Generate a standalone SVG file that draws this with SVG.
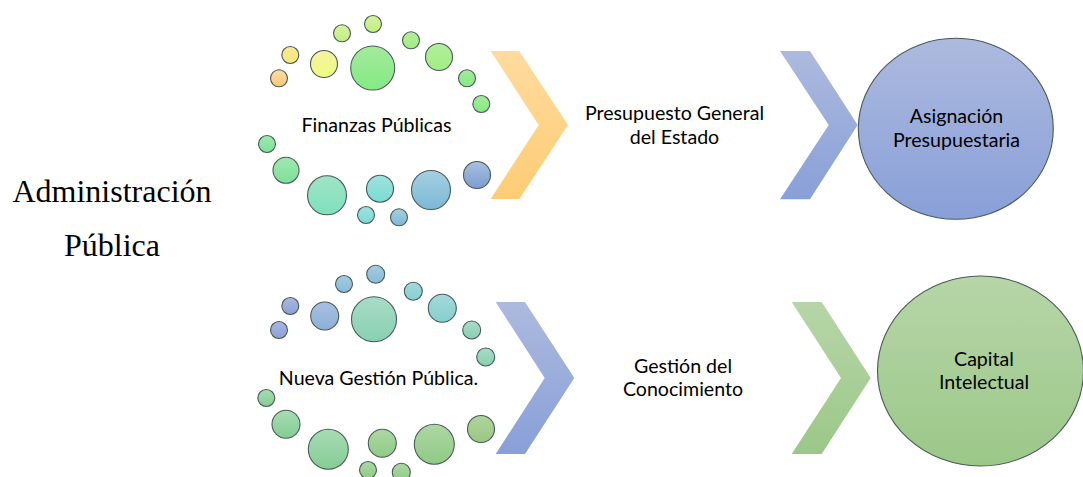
<svg xmlns="http://www.w3.org/2000/svg" width="1083" height="477" viewBox="0 0 1083 477">
<style>
text{font-family:"Lato","Open Sans","Liberation Sans",sans-serif;font-size:19.6px;fill:#000;text-anchor:middle}
.serif{font-family:"Liberation Serif","Times New Roman",serif;font-size:32px}
circle,ellipse{stroke:#4a5a58;stroke-width:1.1}
</style>
<defs>
<linearGradient id="orange" x1="0" y1="0" x2="0" y2="1"><stop offset="0" stop-color="#fddca0"/><stop offset="1" stop-color="#fbc978"/></linearGradient>
<linearGradient id="yellow" x1="0" y1="0" x2="0" y2="1"><stop offset="0" stop-color="#fbe795"/><stop offset="1" stop-color="#f7ea7a"/></linearGradient>
<linearGradient id="lemon" x1="0" y1="0" x2="0" y2="1"><stop offset="0" stop-color="#f4f3a0"/><stop offset="1" stop-color="#eefb80"/></linearGradient>
<linearGradient id="lime" x1="0" y1="0" x2="0" y2="1"><stop offset="0" stop-color="#d4f2a0"/><stop offset="1" stop-color="#c0f080"/></linearGradient>
<linearGradient id="lgreen" x1="0" y1="0" x2="0" y2="1"><stop offset="0" stop-color="#b4ee9c"/><stop offset="1" stop-color="#a0ee80"/></linearGradient>
<linearGradient id="green" x1="0" y1="0" x2="0" y2="1"><stop offset="0" stop-color="#a4ea9c"/><stop offset="1" stop-color="#84ea84"/></linearGradient>
<linearGradient id="mint" x1="0" y1="0" x2="0" y2="1"><stop offset="0" stop-color="#a0e8b0"/><stop offset="1" stop-color="#7ee09a"/></linearGradient>
<linearGradient id="aqua" x1="0" y1="0" x2="0" y2="1"><stop offset="0" stop-color="#a0e4c4"/><stop offset="1" stop-color="#7ee0bc"/></linearGradient>
<linearGradient id="teal" x1="0" y1="0" x2="0" y2="1"><stop offset="0" stop-color="#a0e2dc"/><stop offset="1" stop-color="#78dcd4"/></linearGradient>
<linearGradient id="sky" x1="0" y1="0" x2="0" y2="1"><stop offset="0" stop-color="#a4d0e0"/><stop offset="1" stop-color="#7cb8d8"/></linearGradient>
<linearGradient id="blue" x1="0" y1="0" x2="0" y2="1"><stop offset="0" stop-color="#a8c0e0"/><stop offset="1" stop-color="#7c9cd0"/></linearGradient>
<linearGradient id="bIndigo" x1="0" y1="0" x2="0" y2="1"><stop offset="0" stop-color="#a8b8e0"/><stop offset="1" stop-color="#8aa0d8"/></linearGradient>
<linearGradient id="bBlue" x1="0" y1="0" x2="0" y2="1"><stop offset="0" stop-color="#a8c0e0"/><stop offset="1" stop-color="#8cb0d8"/></linearGradient>
<linearGradient id="bSky" x1="0" y1="0" x2="0" y2="1"><stop offset="0" stop-color="#a4cce0"/><stop offset="1" stop-color="#88bcd4"/></linearGradient>
<linearGradient id="bTeal" x1="0" y1="0" x2="0" y2="1"><stop offset="0" stop-color="#a4d8dc"/><stop offset="1" stop-color="#84d0cc"/></linearGradient>
<linearGradient id="bMint" x1="0" y1="0" x2="0" y2="1"><stop offset="0" stop-color="#a8dcc8"/><stop offset="1" stop-color="#88d0b0"/></linearGradient>
<linearGradient id="bGreen" x1="0" y1="0" x2="0" y2="1"><stop offset="0" stop-color="#a8dcb4"/><stop offset="1" stop-color="#84cc94"/></linearGradient>
<linearGradient id="bLeaf" x1="0" y1="0" x2="0" y2="1"><stop offset="0" stop-color="#acd8a4"/><stop offset="1" stop-color="#90ca84"/></linearGradient>
<linearGradient id="bOlive" x1="0" y1="0" x2="0" y2="1"><stop offset="0" stop-color="#b0d4a0"/><stop offset="1" stop-color="#98c880"/></linearGradient>
<linearGradient id="chevOrange" x1="0" y1="0" x2="0" y2="1"><stop offset="0" stop-color="#fedb9e"/><stop offset="1" stop-color="#fecc74"/></linearGradient>
<linearGradient id="chevBlue" x1="0" y1="0" x2="0" y2="1"><stop offset="0" stop-color="#adbade"/><stop offset="1" stop-color="#889fd8"/></linearGradient>
<linearGradient id="chevGreen" x1="0" y1="0" x2="0" y2="1"><stop offset="0" stop-color="#b7d5a8"/><stop offset="1" stop-color="#9bc888"/></linearGradient>
</defs>

<g id="node-administracion">
<text class="serif" x="112" y="202">Administración</text>
<text class="serif" x="112" y="256">Pública</text>
</g>

<g id="node-finanzas">
<circle cx="290.3" cy="55" r="8.5" fill="url(#yellow)"/>
<circle cx="279" cy="78.3" r="8.5" fill="url(#orange)"/>
<circle cx="324" cy="64" r="13.5" fill="url(#lemon)"/>
<circle cx="342" cy="33.3" r="8.5" fill="url(#lime)"/>
<circle cx="373" cy="24" r="8.5" fill="url(#lime)"/>
<circle cx="372.7" cy="68" r="22" fill="url(#green)"/>
<circle cx="411" cy="40.3" r="8.5" fill="url(#lgreen)"/>
<circle cx="439" cy="57" r="13.5" fill="url(#lgreen)"/>
<circle cx="467" cy="78.3" r="8.5" fill="url(#green)"/>
<circle cx="481.3" cy="104" r="8.5" fill="url(#green)"/>
<circle cx="267" cy="144" r="8.5" fill="url(#mint)"/>
<circle cx="286" cy="170.3" r="13" fill="url(#mint)"/>
<circle cx="327" cy="195.3" r="19.5" fill="url(#aqua)"/>
<circle cx="380" cy="188.7" r="13.5" fill="url(#teal)"/>
<circle cx="431" cy="190" r="19.5" fill="url(#sky)"/>
<circle cx="477" cy="175" r="13.5" fill="url(#blue)"/>
<circle cx="366" cy="215" r="8.5" fill="url(#teal)"/>
<circle cx="399" cy="217.3" r="8.5" fill="url(#sky)"/>
<text x="376.5" y="132">Finanzas Públicas</text>
</g>

<g id="node-nueva-gestion">
<circle cx="290.3" cy="306" r="8.5" fill="url(#bIndigo)"/>
<circle cx="279" cy="330" r="8.5" fill="url(#bIndigo)"/>
<circle cx="324.7" cy="316" r="14" fill="url(#bBlue)"/>
<circle cx="344" cy="284" r="8.5" fill="url(#bSky)"/>
<circle cx="375.7" cy="274.3" r="9" fill="url(#bSky)"/>
<circle cx="374" cy="319.3" r="22.5" fill="url(#bMint)"/>
<circle cx="413.3" cy="291.3" r="9" fill="url(#bTeal)"/>
<circle cx="442.3" cy="308.3" r="14" fill="url(#bTeal)"/>
<circle cx="471.7" cy="330" r="9" fill="url(#bMint)"/>
<circle cx="485.7" cy="357" r="9" fill="url(#bMint)"/>
<circle cx="266.3" cy="398" r="8.5" fill="url(#bGreen)"/>
<circle cx="286" cy="424.3" r="14" fill="url(#bGreen)"/>
<circle cx="328.3" cy="449.3" r="20" fill="url(#bGreen)"/>
<circle cx="382.3" cy="443.3" r="14" fill="url(#bLeaf)"/>
<circle cx="434.3" cy="444.3" r="20" fill="url(#bLeaf)"/>
<circle cx="481" cy="429" r="13.5" fill="url(#bOlive)"/>
<circle cx="368" cy="470" r="8.5" fill="url(#bLeaf)"/>
<circle cx="401.3" cy="472.3" r="9" fill="url(#bLeaf)"/>
<text x="378.5" y="385">Nueva Gestión Pública.</text>
</g>

<g id="connectors">
<polygon points="490.7,51 519.3,51 568,125 519.3,199 490.7,199 538.7,125" fill="url(#chevOrange)"/>
<polygon points="780,51 810,51 857.7,125 810,199.3 780,199.3 828.7,125" fill="url(#chevBlue)"/>
<polygon points="495.7,302 525,302 574.3,378 525,454 495.7,454 544.7,378" fill="url(#chevBlue)"/>
<polygon points="791.7,302 821.7,302 870.7,378 821.7,454 791.7,454 841,378" fill="url(#chevGreen)"/>
</g>

<g id="node-presupuesto">
<text x="674.5" y="120">Presupuesto General</text>
<text x="674.5" y="144">del Estado</text>
</g>

<g id="node-gestion-conocimiento">
<text x="683" y="373">Gestión del</text>
<text x="683" y="396">Conocimiento</text>
</g>

<g id="node-asignacion">
<ellipse cx="955.8" cy="128.8" rx="97.5" ry="90.5" fill="url(#chevBlue)"/>
<text x="956.5" y="123">Asignación</text>
<text x="956.5" y="147">Presupuestaria</text>
</g>

<g id="node-capital">
<ellipse cx="980.5" cy="371" rx="103" ry="95" fill="url(#chevGreen)"/>
<text x="984" y="366">Capital</text>
<text x="984" y="389">Intelectual</text>
</g>
</svg>
